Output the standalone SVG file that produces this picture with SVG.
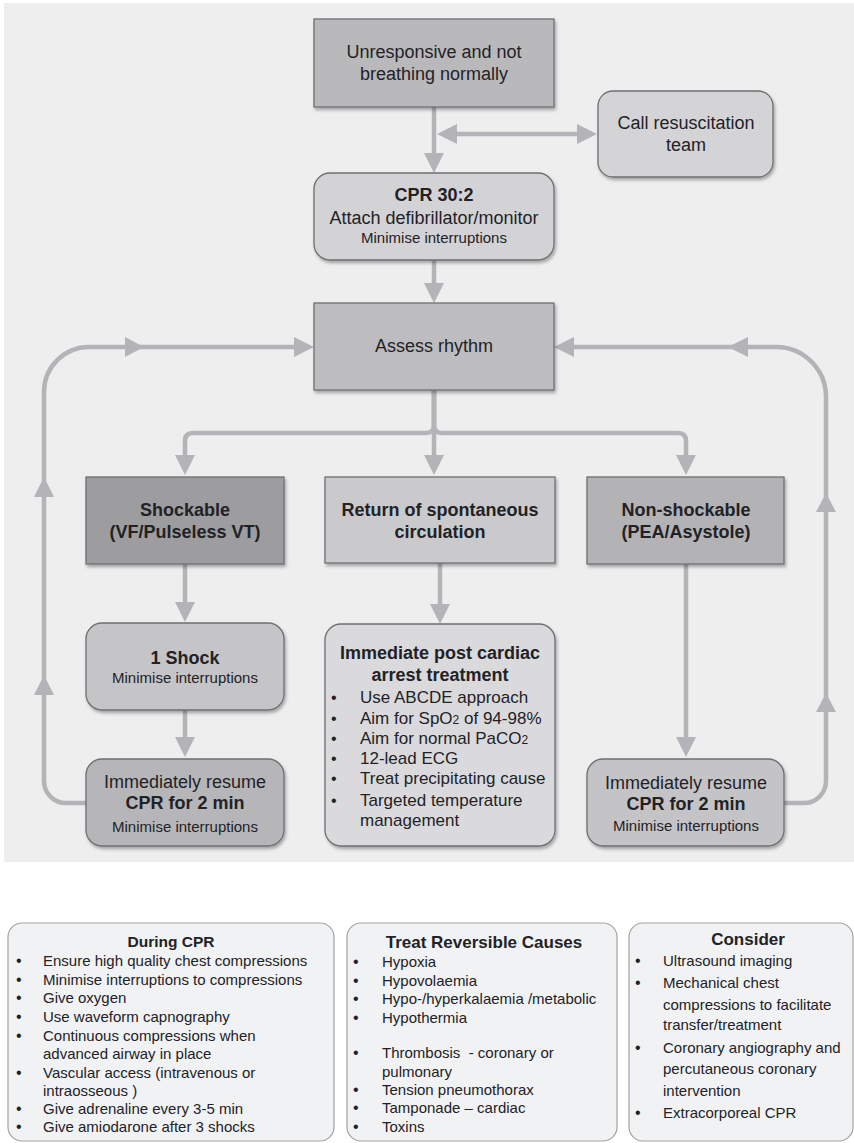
<svg xmlns="http://www.w3.org/2000/svg" width="854" height="1143" viewBox="0 0 854 1143">
  <style>
    text { font-family: "Liberation Sans", Arial, Helvetica, sans-serif; fill: #222226; }
    .c { text-anchor: middle; }
    .t18 { font-size: 18px; }
    .t17 { font-size: 17px; }
    .t15 { font-size: 15px; }
    .b { font-weight: bold; }
    .node { stroke: #6f6f73; stroke-width: 1.3; filter: url(#shadow); }
    .note { fill: #f1f2f4; stroke: #a3a3a6; stroke-width: 1.2; }
    .wire { fill: none; stroke: #b4b4b8; stroke-width: 4.5; }
    .head { fill: #b4b4b8; }
    .dot { font-size: 16px; }
  </style>
  <defs>
    <filter id="shadow" x="-10%" y="-10%" width="125%" height="130%">
      <feDropShadow dx="1.5" dy="2.5" stdDeviation="1.6" flood-color="#000" flood-opacity="0.3"/>
    </filter>
    <marker id="arrow" markerUnits="userSpaceOnUse" markerWidth="20" markerHeight="20" viewBox="0 0 20 20" refX="10" refY="10" orient="auto-start-reverse">
      <path d="M0,0 L20,10 L0,20 z" fill="#b4b4b8"/>
    </marker>
  </defs>

  <!-- backdrop panel for the algorithm -->
  <rect x="0" y="0" width="854" height="1143" fill="#ffffff"/>
  <rect id="panel" x="4" y="3" width="850" height="859" fill="#eeeeef"/>

  <!-- connectors -->
  <g id="connectors">
    <path class="wire" d="M434,107 V163" marker-end="url(#arrow)"/>
    <path class="wire" d="M447,134 H587" marker-start="url(#arrow)" marker-end="url(#arrow)"/>
    <path class="wire" d="M434,260 V293" marker-end="url(#arrow)"/>
    <path class="wire" d="M434,390 V465" marker-end="url(#arrow)"/>
    <path class="wire" d="M434,390 V425 Q434,433 426,433 H193 Q185,433 185,441 V465" marker-end="url(#arrow)"/>
    <path class="wire" d="M434,390 V425 Q434,433 442,433 H678 Q686,433 686,441 V465" marker-end="url(#arrow)"/>
    <path class="wire" d="M185,564 V612" marker-end="url(#arrow)"/>
    <path class="wire" d="M185,710 V747" marker-end="url(#arrow)"/>
    <path class="wire" d="M440,563 V614" marker-end="url(#arrow)"/>
    <path class="wire" d="M686,564 V747" marker-end="url(#arrow)"/>
    <!-- shockable loop back to rhythm check -->
    <path class="wire" d="M86,803 H66 A22,22 0 0 1 44,781 V392 A45,45 0 0 1 89,347 H304" marker-end="url(#arrow)"/>
    <!-- non-shockable loop back to rhythm check -->
    <path class="wire" d="M784,803 H804 A22,22 0 0 0 826,781 V397 A50,50 0 0 0 776,347 H564" marker-end="url(#arrow)"/>
    <!-- direction heads along the loops -->
    <polygon class="head" points="125,337 144,347 125,357"/>
    <polygon class="head" points="34,497 44,477 54,497"/>
    <polygon class="head" points="34,695 44,675 54,695"/>
    <polygon class="head" points="748,337 728,347 748,357"/>
    <polygon class="head" points="816,512 826,493 836,512"/>
    <polygon class="head" points="816,712 826,693 836,712"/>
  </g>

  <g id="unresponsive">
    <rect class="node" x="314" y="19" width="240" height="88" fill="#b9b9bc"/>
    <text class="c t18" x="434" y="58">Unresponsive and not</text>
    <text class="c t18" x="434" y="80">breathing normally</text>
  </g>

  <g id="call-team">
    <rect class="node" x="598" y="91" width="175" height="86" rx="15" fill="#d4d4d7"/>
    <text class="c t18" x="686" y="129">Call resuscitation</text>
    <text class="c t18" x="686" y="151">team</text>
  </g>

  <g id="cpr">
    <rect class="node" x="314" y="173" width="240" height="87" rx="16" fill="#d3d3d6"/>
    <text class="c t18 b" x="434" y="201">CPR 30:2</text>
    <text class="c t18" x="434" y="224">Attach defibrillator/monitor</text>
    <text class="c t15" x="434" y="243">Minimise interruptions</text>
  </g>

  <g id="assess">
    <rect class="node" x="314" y="303" width="240" height="87" fill="#bdbdc0"/>
    <text class="c t18" x="434" y="352">Assess rhythm</text>
  </g>

  <g id="shockable">
    <rect class="node" x="86" y="477" width="198" height="87" fill="#9d9da0"/>
    <text class="c t18 b" x="185" y="516">Shockable</text>
    <text class="c t18 b" x="185" y="538">(VF/Pulseless VT)</text>
  </g>

  <g id="rosc">
    <rect class="node" x="325" y="477" width="230" height="86" fill="#cacacd"/>
    <text class="c t18 b" x="440" y="516">Return of spontaneous</text>
    <text class="c t18 b" x="440" y="538">circulation</text>
  </g>

  <g id="non-shockable">
    <rect class="node" x="587" y="477" width="197" height="87" fill="#b3b3b6"/>
    <text class="c t18 b" x="686" y="516">Non-shockable</text>
    <text class="c t18 b" x="686" y="538">(PEA/Asystole)</text>
  </g>

  <g id="shock">
    <rect class="node" x="86" y="623" width="198" height="87" rx="16" fill="#c5c5c8"/>
    <text class="c t18 b" x="185" y="664">1 Shock</text>
    <text class="c t15" x="185" y="683">Minimise interruptions</text>
  </g>

  <g id="resume-shockable">
    <rect class="node" x="86" y="759" width="198" height="87" rx="16" fill="#b6b6b9"/>
    <text class="c t18" x="185" y="788">Immediately resume</text>
    <text class="c t18 b" x="185" y="809">CPR for 2 min</text>
    <text class="c t15" x="185" y="832">Minimise interruptions</text>
  </g>

  <g id="post-arrest">
    <rect class="node" x="325" y="624" width="230" height="222" rx="16" fill="#dadadd"/>
    <text class="c t18 b" x="440" y="659">Immediate post cardiac</text>
    <text class="c t18 b" x="440" y="681">arrest treatment</text>
    <text class="dot" x="331" y="703">•</text>
    <text class="t17" x="360" y="703">Use ABCDE approach</text>
    <text class="dot" x="331" y="724">•</text>
    <text class="t17" x="360" y="724">Aim for SpO<tspan font-size="12">2</tspan> of 94-98%</text>
    <text class="dot" x="331" y="744">•</text>
    <text class="t17" x="360" y="744">Aim for normal PaCO<tspan font-size="12">2</tspan></text>
    <text class="dot" x="331" y="764">•</text>
    <text class="t17" x="360" y="764">12-lead ECG</text>
    <text class="dot" x="331" y="784">•</text>
    <text class="t17" x="360" y="784">Treat precipitating cause</text>
    <text class="dot" x="331" y="806">•</text>
    <text class="t17" x="360" y="806">Targeted temperature</text>
    <text class="t17" x="360" y="826">management</text>
  </g>

  <g id="resume-non-shockable">
    <rect class="node" x="587" y="759" width="197" height="87" rx="16" fill="#c4c4c7"/>
    <text class="c t18" x="686" y="789">Immediately resume</text>
    <text class="c t18 b" x="686" y="810">CPR for 2 min</text>
    <text class="c t15" x="686" y="831">Minimise interruptions</text>
  </g>

  <g id="during-cpr">
    <rect class="note" x="8" y="923" width="326" height="218" rx="14"/>
    <text class="c b" font-size="15.5" x="171" y="947">During CPR</text>
    <text class="dot" x="16" y="966">•</text>
    <text class="t15" x="43" y="966">Ensure high quality chest compressions</text>
    <text class="dot" x="16" y="985">•</text>
    <text class="t15" x="43" y="985">Minimise interruptions to compressions</text>
    <text class="dot" x="16" y="1003">•</text>
    <text class="t15" x="43" y="1003">Give oxygen</text>
    <text class="dot" x="16" y="1022">•</text>
    <text class="t15" x="43" y="1022">Use waveform capnography</text>
    <text class="dot" x="16" y="1041">•</text>
    <text class="t15" x="43" y="1041">Continuous compressions when</text>
    <text class="t15" x="43" y="1059">advanced airway in place</text>
    <text class="dot" x="16" y="1078">•</text>
    <text class="t15" x="43" y="1078">Vascular access (intravenous or</text>
    <text class="t15" x="43" y="1096">intraosseous )</text>
    <text class="dot" x="16" y="1114">•</text>
    <text class="t15" x="43" y="1114">Give adrenaline every 3-5 min</text>
    <text class="dot" x="16" y="1132">•</text>
    <text class="t15" x="43" y="1132">Give amiodarone after 3 shocks</text>
  </g>

  <g id="reversible-causes">
    <rect class="note" x="347" y="923" width="270" height="218" rx="14"/>
    <text class="c t17 b" x="484" y="948">Treat Reversible Causes</text>
    <text class="dot" x="353" y="967">•</text>
    <text class="t15" x="382" y="967">Hypoxia</text>
    <text class="dot" x="353" y="986">•</text>
    <text class="t15" x="382" y="986">Hypovolaemia</text>
    <text class="dot" x="353" y="1004">•</text>
    <text class="t15" x="382" y="1004">Hypo-/hyperkalaemia /metabolic</text>
    <text class="dot" x="353" y="1023">•</text>
    <text class="t15" x="382" y="1023">Hypothermia</text>
    <text class="dot" x="353" y="1058">•</text>
    <text class="t15" x="382" y="1058">Thrombosis&#160; - coronary or</text>
    <text class="t15" x="382" y="1077">pulmonary</text>
    <text class="dot" x="353" y="1095">•</text>
    <text class="t15" x="382" y="1095">Tension pneumothorax</text>
    <text class="dot" x="353" y="1113">•</text>
    <text class="t15" x="382" y="1113">Tamponade – cardiac</text>
    <text class="dot" x="353" y="1132">•</text>
    <text class="t15" x="382" y="1132">Toxins</text>
  </g>

  <g id="consider">
    <rect class="note" x="629" y="923" width="224" height="218" rx="14"/>
    <text class="c t17 b" x="748" y="945">Consider</text>
    <text class="dot" x="635" y="966">•</text>
    <text class="t15" x="663" y="966">Ultrasound imaging</text>
    <text class="dot" x="635" y="988">•</text>
    <text class="t15" x="663" y="988">Mechanical chest</text>
    <text class="t15" x="663" y="1010">compressions to facilitate</text>
    <text class="t15" x="663" y="1030">transfer/treatment</text>
    <text class="dot" x="635" y="1053">•</text>
    <text class="t15" x="663" y="1053">Coronary angiography and</text>
    <text class="t15" x="663" y="1074">percutaneous coronary</text>
    <text class="t15" x="663" y="1096">intervention</text>
    <text class="dot" x="635" y="1118">•</text>
    <text class="t15" x="663" y="1118">Extracorporeal CPR</text>
  </g>
</svg>
